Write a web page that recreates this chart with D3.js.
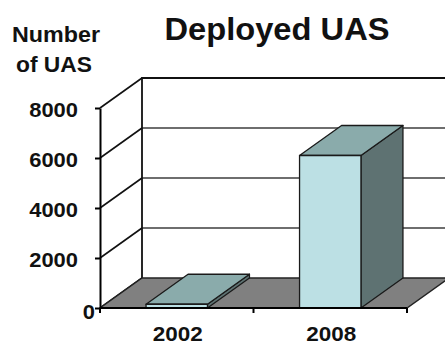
<!DOCTYPE html>
<html>
<head>
<meta charset="utf-8">
<script src="https://d3js.org/d3.v7.min.js"></script>
<style>
  body { margin: 0; background: #fff; }
  text { font-family: "Liberation Sans", Arial, sans-serif; font-weight: bold; fill: #111; }
</style>
</head>
<body>
<div id="chart"></div>
<script>
var years = ["2002", "2008"];
var deployed = [150, 6100];
var yTicks = [0, 2000, 4000, 6000, 8000];
var titleText = "Deployed UAS";
var yTitle = ["Number", "of UAS"];

var width = 445, height = 344;
var depthX = 42, depthY = 30;   // 3d offset of back wall

var svg = d3.select("#chart").append("svg")
    .attr("width", width)
    .attr("height", height);

var x = d3.scaleBand().domain(years).range([100, 407]).padding(0);
var y = d3.scaleLinear().domain([0, 8000]).range([308, 108]);
var barW = x.bandwidth() * 0.4;

var x0 = x.range()[0], x1 = x.range()[1];
var yTop = y(8000), yBase = y(0);

// back wall
svg.append("rect")
    .attr("x", x0 + depthX).attr("y", yTop - depthY)
    .attr("width", x1 - x0).attr("height", yBase - yTop)
    .attr("fill", "#fff");

// gridlines on back wall
svg.append("g").selectAll("line")
    .data(yTicks.filter(function(d) { return d > 0 && d < 8000; }))
    .enter().append("line")
    .attr("x1", x0 + depthX).attr("x2", x1 + depthX)
    .attr("y1", function(d) { return y(d) - depthY; })
    .attr("y2", function(d) { return y(d) - depthY; })
    .attr("stroke", "#6e6e6e").attr("stroke-width", 2);

// diagonals on left wall
svg.append("g").selectAll("line")
    .data(yTicks)
    .enter().append("line")
    .attr("x1", x0).attr("y1", function(d) { return y(d); })
    .attr("x2", x0 + depthX).attr("y2", function(d) { return y(d) - depthY; })
    .attr("stroke", "#111").attr("stroke-width", 1.6);

// back wall top and left edge
svg.append("path")
    .attr("d", "M" + (x0 + depthX) + "," + yBase + "V" + (yTop - depthY) + "H" + (x1 + depthX))
    .attr("fill", "none").attr("stroke", "#111").attr("stroke-width", 1.8);

// floor
svg.append("polygon")
    .attr("points", [[x0, yBase], [x1, yBase], [x1 + depthX, yBase - depthY], [x0 + depthX, yBase - depthY]].join(" "))
    .attr("fill", "#808080").attr("stroke", "#222").attr("stroke-width", 1.4);

// bars
var bars = svg.append("g").selectAll("g")
    .data(years.map(function(c, i) { return {year: c, value: deployed[i]}; }))
    .enter().append("g");

bars.each(function(d) {
    var g = d3.select(this);
    var bx0 = x(d.year) + (x.bandwidth() - barW) / 2;
    var bx1 = bx0 + barW;
    var yv = y(d.value);
    g.append("polygon")
        .attr("points", [[bx1, yv], [bx1 + depthX, yv - depthY], [bx1 + depthX, yBase - depthY], [bx1, yBase]].join(" "))
        .attr("fill", "#5e7272");
    g.append("polygon")
        .attr("points", [[bx0, yv], [bx1, yv], [bx1 + depthX, yv - depthY], [bx0 + depthX, yv - depthY]].join(" "))
        .attr("fill", "#8aabab");
    g.append("rect")
        .attr("x", bx0).attr("y", yv)
        .attr("width", barW).attr("height", yBase - yv)
        .attr("fill", "#bce0e4");
    g.selectAll("polygon, rect")
        .attr("stroke", "#1a1a1a").attr("stroke-width", 1.3).attr("stroke-linejoin", "round");
});

// front y axis
var yAxis = svg.append("g")
    .attr("transform", "translate(" + x0 + ",0)")
    .call(d3.axisLeft(y).tickValues(yTicks).tickSize(5).tickSizeOuter(0).tickFormat(""));
yAxis.selectAll("path, line").attr("stroke", "#000").attr("stroke-width", 2);

svg.append("g").selectAll("text")
    .data(yTicks)
    .enter().append("text")
    .attr("x", function(d) { return d === 0 ? 95 : 78; })
    .attr("y", function(d) { return y(d) + (d === 0 ? 11 : 9); })
    .attr("text-anchor", "end")
    .attr("font-size", 20)
    .attr("textLength", function(d) { return String(d).length * 12.2; })
    .attr("lengthAdjust", "spacingAndGlyphs")
    .text(function(d) { return d; });

// front x axis
svg.append("line")
    .attr("x1", x0).attr("x2", x1).attr("y1", yBase).attr("y2", yBase)
    .attr("stroke", "#000").attr("stroke-width", 2);
var edges = years.map(function(c) { return x(c); }).concat([x1]);
svg.append("g").selectAll("line")
    .data(edges)
    .enter().append("line")
    .attr("x1", function(d) { return d; }).attr("x2", function(d) { return d; })
    .attr("y1", yBase).attr("y2", yBase + 5)
    .attr("stroke", "#000").attr("stroke-width", 2);

svg.append("g").selectAll("text")
    .data(years)
    .enter().append("text")
    .attr("x", function(d) { return x(d) + x.bandwidth() / 2 + 1; })
    .attr("y", 341)
    .attr("text-anchor", "middle")
    .attr("font-size", 20)
    .attr("textLength", 50)
    .attr("lengthAdjust", "spacingAndGlyphs")
    .text(function(d) { return d; });

// titles
svg.append("text")
    .attr("x", 277).attr("y", 40)
    .attr("text-anchor", "middle")
    .attr("font-size", 32)
    .attr("textLength", 225)
    .attr("lengthAdjust", "spacingAndGlyphs")
    .text(titleText);

svg.append("text").attr("x", 56).attr("y", 42)
    .attr("text-anchor", "middle").attr("font-size", 22)
    .attr("textLength", 88).attr("lengthAdjust", "spacingAndGlyphs")
    .text(yTitle[0]);
svg.append("text").attr("x", 54).attr("y", 72)
    .attr("text-anchor", "middle").attr("font-size", 22)
    .attr("textLength", 76).attr("lengthAdjust", "spacingAndGlyphs")
    .text(yTitle[1]);
</script>
</body>
</html>
